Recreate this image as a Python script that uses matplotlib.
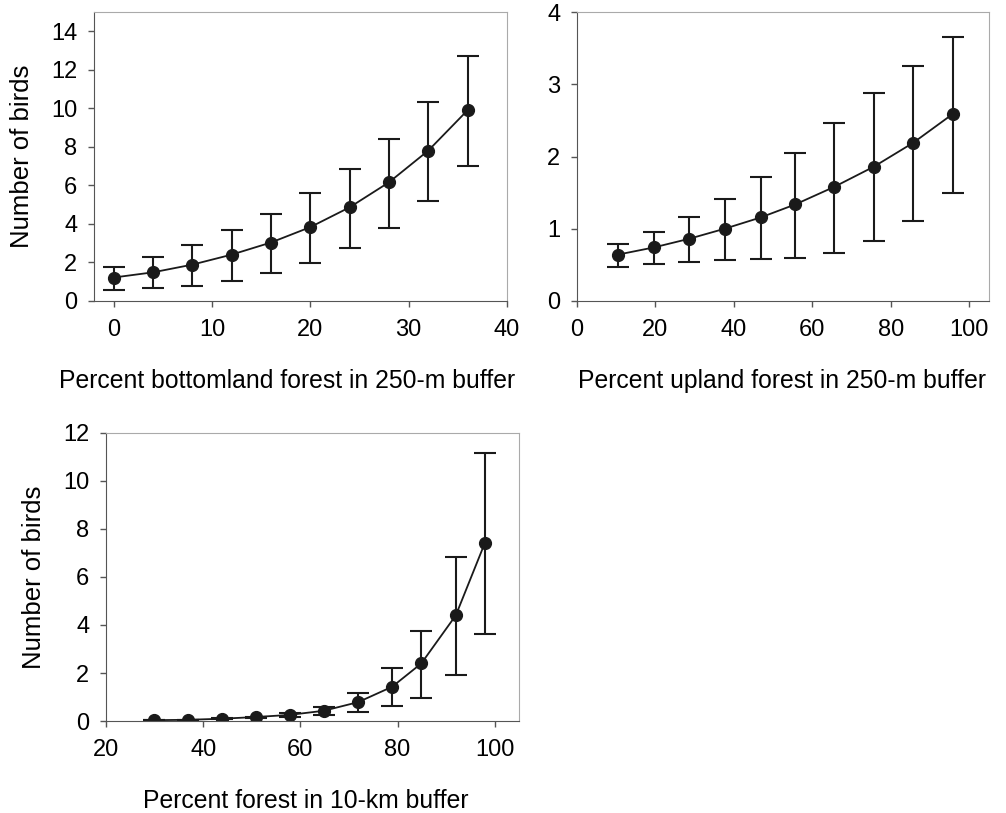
import matplotlib
matplotlib.use("Agg")
import matplotlib.pyplot as plt
import numpy as np

plt.rcParams['font.family'] = ['Liberation Sans', 'DejaVu Sans']

# panel A: bottomland forest in 250-m buffer
bottom_x = [0, 4, 8, 12, 16, 20, 24, 28, 32, 36]
bottom_mean = [1.21, 1.48, 1.88, 2.40, 3.03, 3.83, 4.86, 6.16, 7.81, 9.91]
bottom_lo = [0.55, 0.64, 0.79, 1.05, 1.43, 1.98, 2.76, 3.79, 5.19, 7.03]
bottom_hi = [1.76, 2.28, 2.91, 3.66, 4.53, 5.59, 6.84, 8.41, 10.33, 12.71]

# panel B: upland forest in 250-m buffer
upland_x = [10.4, 19.6, 28.6, 37.7, 46.8, 55.6, 65.6, 75.7, 85.7, 95.8]
upland_mean = [0.64, 0.74, 0.86, 1.00, 1.155, 1.335, 1.58, 1.86, 2.19, 2.59]
upland_lo = [0.47, 0.51, 0.54, 0.56, 0.58, 0.60, 0.665, 0.83, 1.11, 1.50]
upland_hi = [0.79, 0.96, 1.16, 1.41, 1.71, 2.055, 2.47, 2.88, 3.26, 3.66]

# panel C: forest in 10-km buffer
forest_x = [29.8, 36.8, 43.8, 50.8, 57.8, 64.8, 71.9, 78.9, 84.9, 92.0, 98.0]
forest_mean = [0.04, 0.055, 0.10, 0.17, 0.26, 0.43, 0.79, 1.43, 2.40, 4.40, 7.42]
forest_lo = [0.04, 0.055, 0.09, 0.15, 0.17, 0.24, 0.36, 0.61, 0.98, 1.90, 3.61]
forest_hi = [0.04, 0.055, 0.11, 0.19, 0.32, 0.60, 1.15, 2.19, 3.75, 6.81, 11.16]

panels = [
    dict(x=bottom_x, m=bottom_mean, lo=bottom_lo, hi=bottom_hi,
         pos=[0.0934, 0.630, 0.4106, 0.355], xlim=(-2, 40), ylim=(0, 15),
         xticks=[0, 10, 20, 30, 40], yticks=range(0, 15, 2), labx=0.467,
         xlabel='Percent bottomland forest in 250-m buffer', ylabel=True),
    dict(x=upland_x, m=upland_mean, lo=upland_lo, hi=upland_hi,
         pos=[0.5736, 0.630, 0.4094, 0.355], xlim=(0, 105), ylim=(0, 4),
         xticks=range(0, 101, 20), yticks=range(0, 5), labx=0.497,
         xlabel='Percent upland forest in 250-m buffer', ylabel=False),
    dict(x=forest_x, m=forest_mean, lo=forest_lo, hi=forest_hi,
         pos=[0.1054, 0.113, 0.4105, 0.355], xlim=(20, 105), ylim=(0, 12),
         xticks=range(20, 101, 20), yticks=range(0, 13, 2), labx=0.484,
         xlabel='Percent forest in 10-km buffer', ylabel=True),
]

fig = plt.figure(figsize=(10.06, 8.13), dpi=100)

for p in panels:
    ax = fig.add_axes(p['pos'])
    x = np.array(p['x'])
    m = np.array(p['m'])
    err = [m - np.array(p['lo']), np.array(p['hi']) - m]
    ax.errorbar(x, m, yerr=err, fmt='-o', color='#1a1a1a', ms=8.5,
                lw=1.3, elinewidth=1.5, capsize=8, capthick=1.5)
    ax.set_xlim(*p['xlim'])
    ax.set_ylim(*p['ylim'])
    ax.set_xticks(list(p['xticks']))
    ax.set_yticks(list(p['yticks']))
    for s in ['left', 'bottom']:
        ax.spines[s].set_color('#555555')
    for s in ['top', 'right']:
        ax.spines[s].set_color('#aaaaaa')
    ax.tick_params(direction='out', length=4, width=1, color='#555555',
                   labelsize=17, pad=9)
    ax.tick_params(axis='y', pad=8)
    ax.set_xlabel(p['xlabel'], fontsize=17.8, labelpad=20)
    ax.xaxis.label.set_x(p['labx'])
    if p['ylabel']:
        ax.set_ylabel('Number of birds', fontsize=18.5, labelpad=12)

fig.savefig('out.png', dpi=100)
